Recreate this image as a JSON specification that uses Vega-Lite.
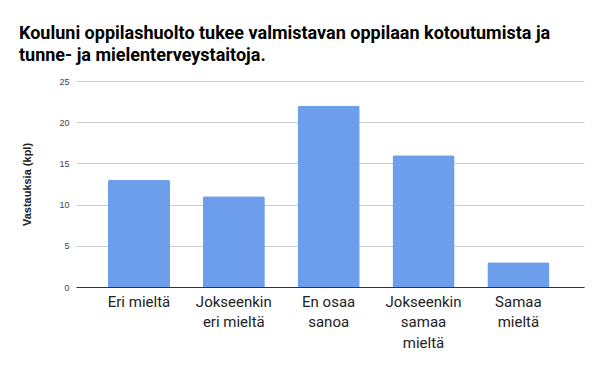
{
  "$schema": "https://vega.github.io/schema/vega-lite/v6.json",
  "width": 508,
  "height": 206,
  "autosize": {"type": "none"},
  "padding": {"left": 76, "top": 81, "right": 16, "bottom": 84},
  "background": "white",
  "title": {
    "text": ["Kouluni oppilashuolto tukee valmistavan oppilaan kotoutumista ja", "tunne- ja mielenterveystaitoja."],
    "anchor": "start",
    "frame": "group",
    "dx": -57,
    "offset": 12,
    "font": "Roboto",
    "fontSize": 18,
    "fontWeight": "bold",
    "lineHeight": 22,
    "color": "#000000"
  },
  "data": {
    "values": [
      {"vaihtoehto": "Eri mieltä", "vastauksia": 13},
      {"vaihtoehto": "Jokseenkin eri mieltä", "vastauksia": 11},
      {"vaihtoehto": "En osaa sanoa", "vastauksia": 22},
      {"vaihtoehto": "Jokseenkin samaa mieltä", "vastauksia": 16},
      {"vaihtoehto": "Samaa mieltä", "vastauksia": 3}
    ]
  },
  "mark": {"type": "bar", "color": "#6d9eeb", "cornerRadiusTopLeft": 2, "cornerRadiusTopRight": 2},
  "encoding": {
    "x": {
      "field": "vaihtoehto",
      "type": "nominal",
      "sort": null,
      "scale": {"paddingInner": 0.346, "paddingOuter": 0.351, "align": 0.48},
      "axis": {
        "title": null,
        "labelAngle": 0,
        "ticks": false,
        "domain": true,
        "domainColor": "#333333",
        "labelFont": "Roboto",
        "labelFontSize": 15,
        "labelColor": "#222222",
        "labelLineHeight": 20.5,
        "labelPadding": 7,
        "labelLimit": 0,
        "labelExpr": "datum.value == 'Jokseenkin eri mieltä' ? ['Jokseenkin', 'eri mieltä'] : datum.value == 'En osaa sanoa' ? ['En osaa', 'sanoa'] : datum.value == 'Jokseenkin samaa mieltä' ? ['Jokseenkin', 'samaa', 'mieltä'] : datum.value == 'Samaa mieltä' ? ['Samaa', 'mieltä'] : datum.value"
      }
    },
    "y": {
      "field": "vastauksia",
      "type": "quantitative",
      "scale": {"domain": [0, 25], "nice": false},
      "axis": {
        "title": "Vastauksia (kpl)",
        "titleFont": "Liberation Sans",
        "titleFontSize": 11,
        "titleFontWeight": "bold",
        "titleColor": "#222222",
        "titlePadding": 26,
        "values": [0, 5, 10, 15, 20, 25],
        "domain": false,
        "ticks": false,
        "grid": true,
        "gridColor": "#cccccc",
        "labelFont": "Liberation Sans",
        "labelFontSize": 9,
        "labelColor": "#444444",
        "labelPadding": 7
      }
    }
  },
  "config": {"view": {"stroke": null}}
}
